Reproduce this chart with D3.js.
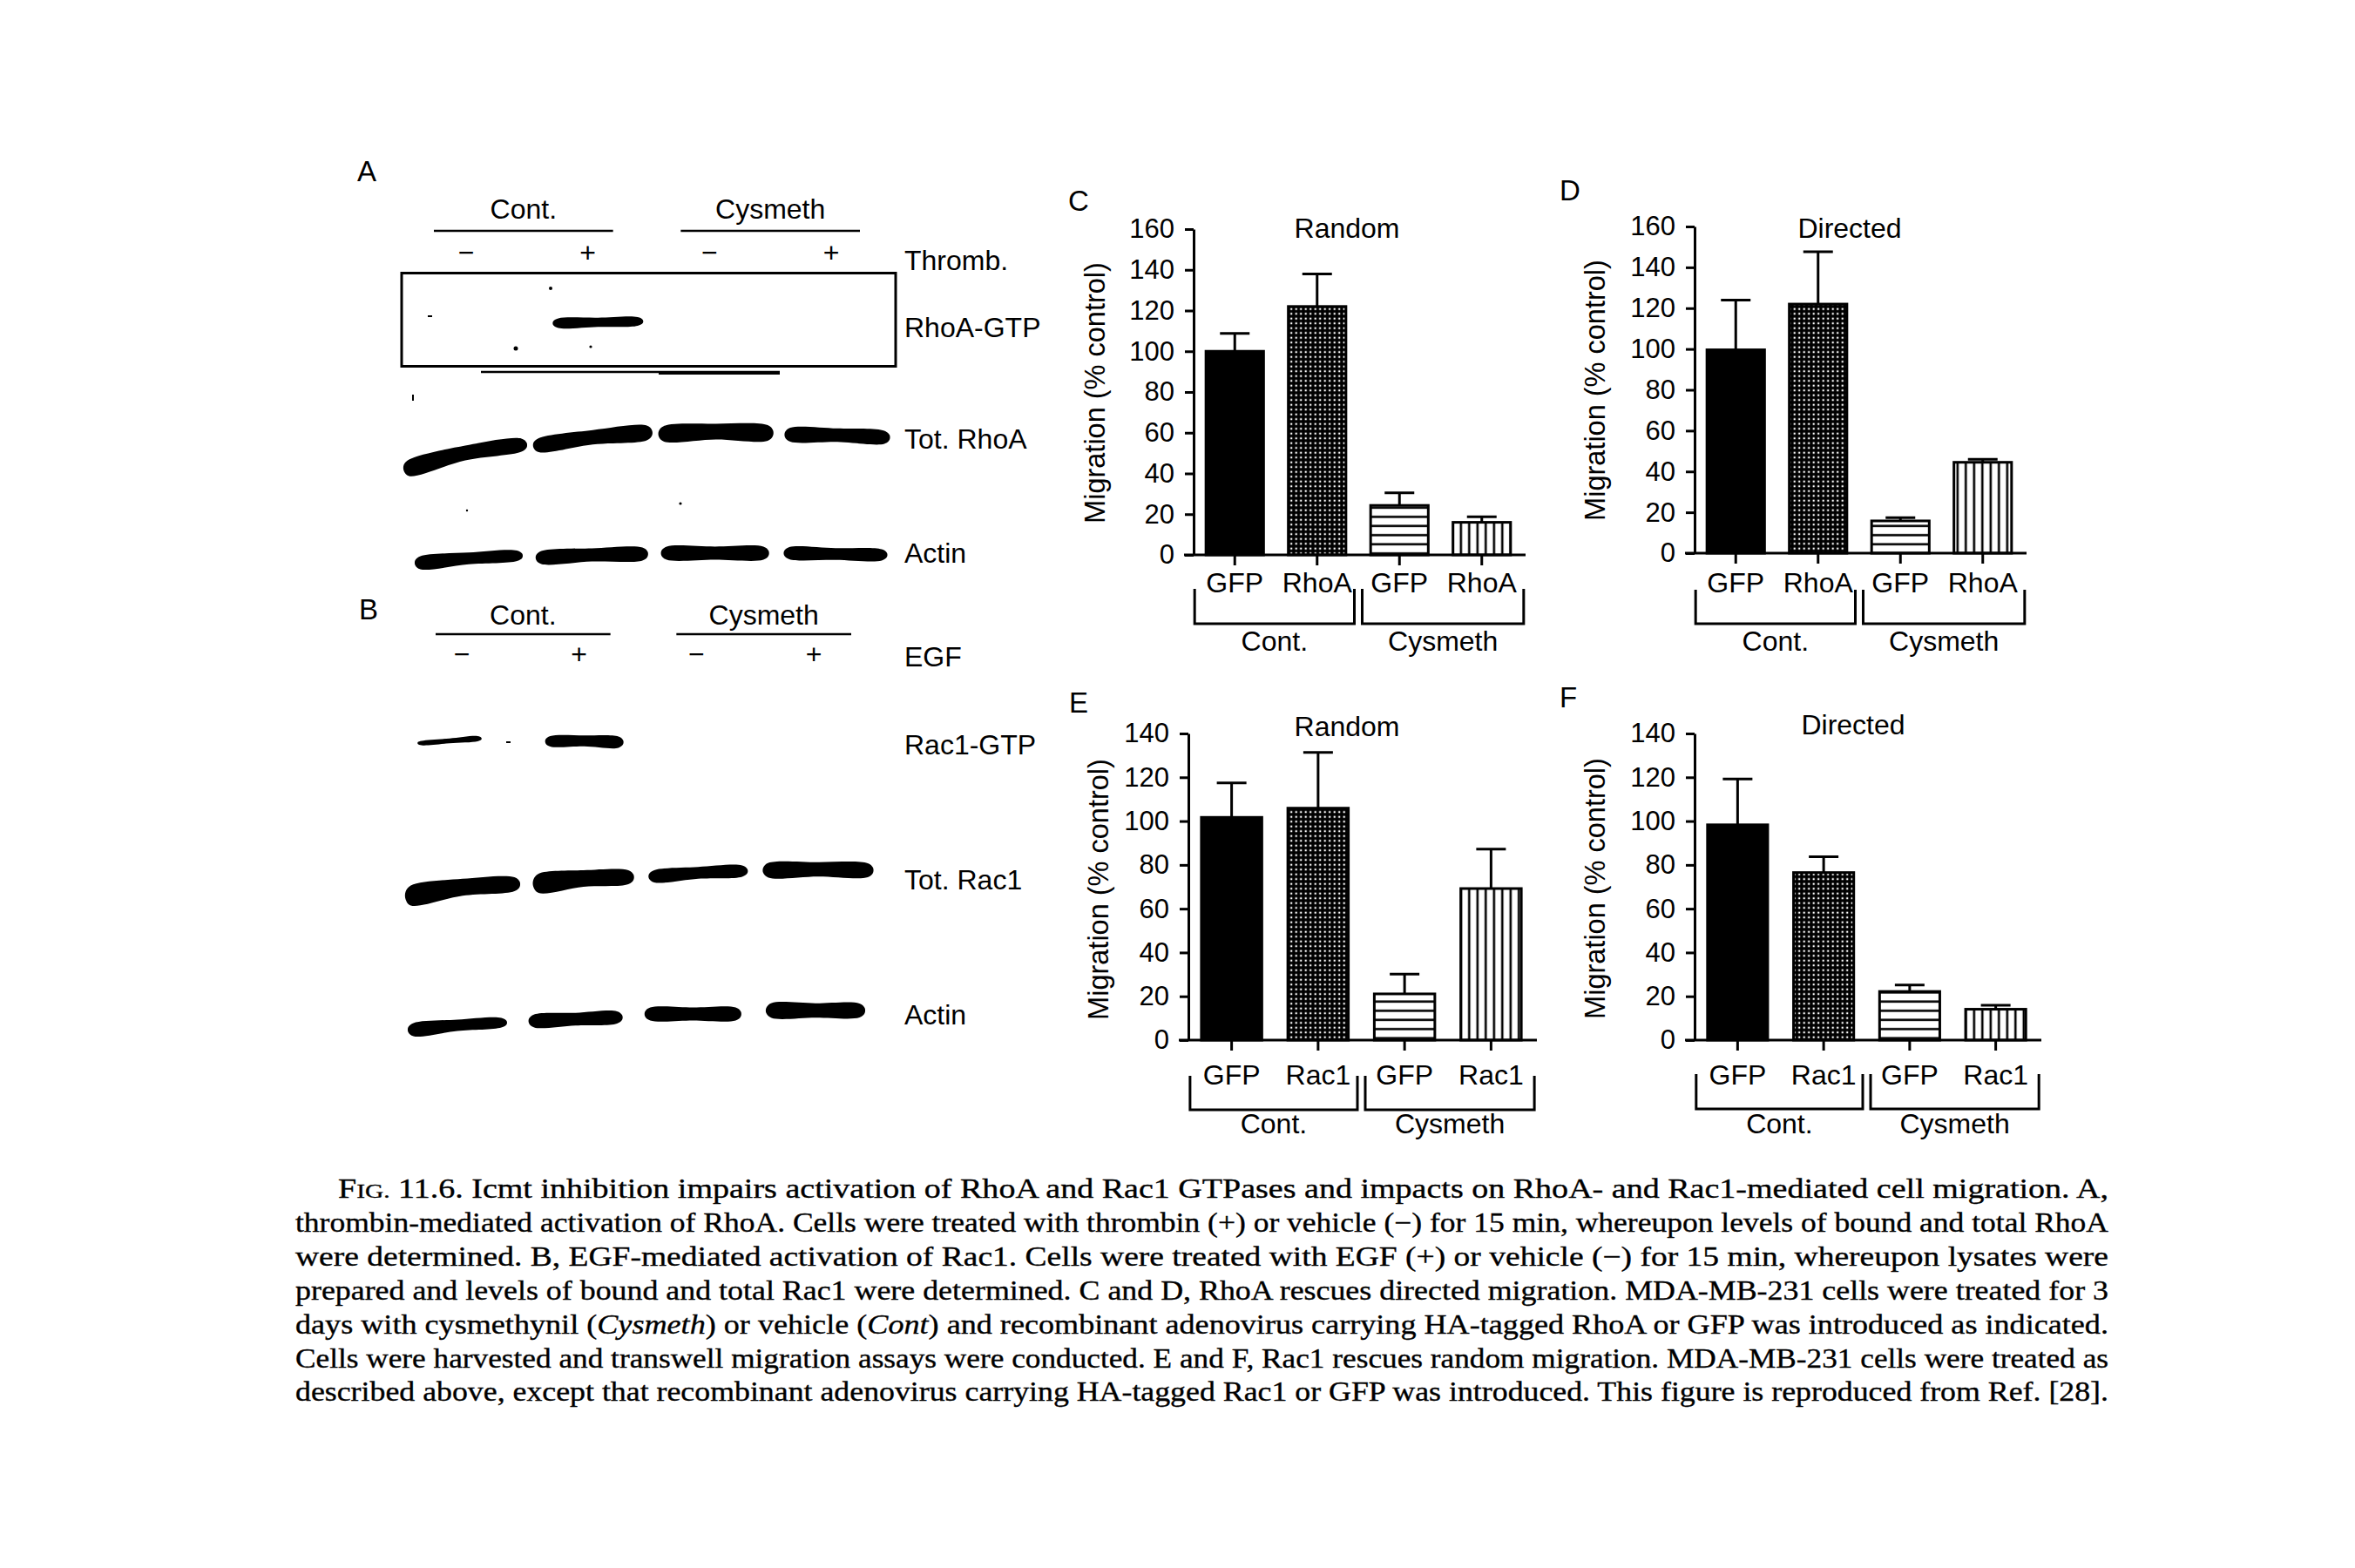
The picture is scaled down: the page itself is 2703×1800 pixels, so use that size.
<!DOCTYPE html>
<html><head><meta charset="utf-8">
<script src="https://cdn.jsdelivr.net/npm/d3@7"></script>
<style>
html,body{margin:0;padding:0;background:#fff;}
svg{display:block;}
text{font-family:"Liberation Sans",Arial,Helvetica,sans-serif;fill:#000;}
text.cap, .cap tspan{font-family:"Liberation Serif","Times New Roman",serif;}
</style></head><body>
<svg id="fig" width="2703" height="1800"></svg>
<script>
// ---------------- DATA ----------------
const groupLabels = ["Cont.", "Cysmeth"];
const rhoCategories = ["GFP", "RhoA", "GFP", "RhoA"];
const racCategories = ["GFP", "Rac1", "GFP", "Rac1"];
const yTicksRho = [0, 20, 40, 60, 80, 100, 120, 140, 160];
const yTicksRac = [0, 20, 40, 60, 80, 100, 120, 140];

// C: RhoA, random migration
const randomRhoMean = [100, 122, 24.3, 16];
const randomRhoSem  = [8.8, 16, 6.2, 2.7];
// D: RhoA, directed migration
const directedRhoMean = [99.6, 122, 15.8, 44.5];
const directedRhoSem  = [24.4, 25.6, 1.6, 1.5];
// E: Rac1, random migration
const randomRacMean = [101.7, 105.9, 21.1, 69.2];
const randomRacSem  = [15.7, 25.4, 9, 18];
// F: Rac1, directed migration
const directedRacMean = [98.3, 76.5, 22.2, 14.1];
const directedRacSem  = [20.9, 7.2, 3, 1.8];

// Western blots (A, B): lane treatments and row names
const thrombLanes = ["−", "+", "−", "+"];
const egfLanes = ["−", "+", "−", "+"];
const blotRowsA = ["RhoA-GTP", "Tot. RhoA", "Actin"];
const blotRowsB = ["Rac1-GTP", "Tot. Rac1", "Actin"];
// band shape per lane: lane, dx, w, yL, yR, tL, tR, bow
const rhoGtpBands = [[1, 10, 103, 1, -1, 11, 10, 0]];
const totRhoBands = [[0, 0, 141, 32, 6, 19, 15, 4], [1, 4, 136, 6, -8, 16, 17, 2], [2, 3, 131, -7, -8, 18, 18, 2], [3, 0, 120, -6, -3, 16, 15, 1]];
const actinABands = [[0, 4, 123, 8, 0, 15, 12, 1], [1, 3, 128, 2, -2, 15, 15, 1], [2, 2, 123, -3, -3, 15, 15, 0], [3, -2, 118, -3, -1, 14, 13, 0]];
const racGtpBands = [[0, -14, 73, 2, -3, 5, 6, 0], [1, 5, 89, 0, 1, 12, 13, 1]];
const totRacBands = [[0, 1, 131, 20, 7, 23, 16, 3], [1, 4, 115, 6, -1, 22, 16, 2], [2, 0, 113, -2, -8, 14, 13, 1], [3, 2, 126, -9, -9, 17, 16, 1]];
const actinBBands = [[0, -5, 113, 14, 6, 15, 11, 1], [1, -5, 107, 4, 0, 15, 14, 0], [2, -6, 110, -4, -4, 15, 15, 0], [3, -1, 113, -8, -8, 17, 16, 0]];

// Caption
const captionLines = [
  [{t:"F"},{t:"IG.",sc:true},{t:" 11.6. Icmt inhibition impairs activation of RhoA and Rac1 GTPases and impacts on RhoA- and Rac1-mediated cell migration. A,"}],
  [{t:"thrombin-mediated activation of RhoA. Cells were treated with thrombin (+) or vehicle (−) for 15 min, whereupon levels of bound and total RhoA"}],
  [{t:"were determined. B, EGF-mediated activation of Rac1. Cells were treated with EGF (+) or vehicle (−) for 15 min, whereupon lysates were"}],
  [{t:"prepared and levels of bound and total Rac1 were determined. C and D, RhoA rescues directed migration. MDA-MB-231 cells were treated for 3"}],
  [{t:"days with cysmethynil ("},{t:"Cysmeth",i:true},{t:") or vehicle ("},{t:"Cont",i:true},{t:") and recombinant adenovirus carrying HA-tagged RhoA or GFP was introduced as indicated."}],
  [{t:"Cells were harvested and transwell migration assays were conducted. E and F, Rac1 rescues random migration. MDA-MB-231 cells were treated as"}],
  [{t:"described above, except that recombinant adenovirus carrying HA-tagged Rac1 or GFP was introduced. This figure is reproduced from Ref. [28]."}]
];

// ---------------- DRAWING ----------------
const svg = d3.select("#fig");
svg.append("rect").attr("width", 2703).attr("height", 1800).attr("fill", "#fff");

const defs = svg.append("defs");
const pd = defs.append("pattern").attr("id", "dots").attr("patternUnits", "userSpaceOnUse").attr("width", 5.5).attr("height", 5.5);
pd.append("rect").attr("width", 5.5).attr("height", 5.5).attr("fill", "#000");
pd.append("rect").attr("x", 1.6).attr("y", 1.6).attr("width", 2.2).attr("height", 2.2).attr("fill", "#fff");
const ph = defs.append("pattern").attr("id", "hlines").attr("patternUnits", "userSpaceOnUse").attr("width", 10).attr("height", 10.5);
ph.append("rect").attr("width", 10).attr("height", 10.5).attr("fill", "#fff");
ph.append("rect").attr("y", 4).attr("width", 10).attr("height", 2.6).attr("fill", "#000");
const pv = defs.append("pattern").attr("id", "vlines").attr("patternUnits", "userSpaceOnUse").attr("width", 9.5).attr("height", 10);
pv.append("rect").attr("width", 9.5).attr("height", 10).attr("fill", "#fff");
pv.append("rect").attr("x", 3.5).attr("width", 2.6).attr("height", 10).attr("fill", "#000");
const barFills = ["#000", "url(#dots)", "url(#hlines)", "url(#vlines)"];

const chartLayout = [
  {letter:"C", lx:1226, ly:242, title:"Random", tx:1546, ty:273, cats:rhoCategories, mean:randomRhoMean, sem:randomRhoSem, ticks:yTicksRho,
   ax:1370, xEnd:1748, y0:637, yTop:263, ylx:1257, yly:451, catY:680, brTop:676, brBot:716, grpY:747},
  {letter:"D", lx:1790, ly:230, title:"Directed", tx:2123, ty:273, cats:rhoCategories, mean:directedRhoMean, sem:directedRhoSem, ticks:yTicksRho,
   ax:1945, xEnd:2323, y0:635, yTop:260, ylx:1831, yly:448, catY:680, brTop:677, brBot:716, grpY:747},
  {letter:"E", lx:1227, ly:818, title:"Random", tx:1546, ty:845, cats:racCategories, mean:randomRacMean, sem:randomRacSem, ticks:yTicksRac,
   ax:1364, xEnd:1761, y0:1194, yTop:842, ylx:1261, yly:1021, catY:1245, brTop:1235, brBot:1274, grpY:1301},
  {letter:"F", lx:1790, ly:812, title:"Directed", tx:2127, ty:843, cats:racCategories, mean:directedRacMean, sem:directedRacSem, ticks:yTicksRac,
   ax:1945, xEnd:2340, y0:1194, yTop:842, ylx:1831, yly:1020, catY:1245, brTop:1233, brBot:1273, grpY:1301}
];

function drawChart(p) {
  const g = svg.append("g");
  const x = d3.scaleBand().domain(d3.range(p.mean.length)).range([p.ax, p.xEnd]).paddingInner(0.3).paddingOuter(0.15);
  const y = d3.scaleLinear().domain([0, d3.max(p.ticks)]).range([p.y0, p.yTop]);
  const bw = x.bandwidth();

  g.append("text").attr("x", p.lx).attr("y", p.ly).attr("font-size", 33).text(p.letter);
  g.append("text").attr("x", p.tx).attr("y", p.ty).attr("font-size", 32).attr("text-anchor", "middle").text(p.title);

  // bars
  g.selectAll("rect.bar").data(p.mean).join("rect").attr("class", "bar")
    .attr("x", (d, i) => x(i)).attr("width", bw)
    .attr("y", d => y(d)).attr("height", d => y(0) - y(d))
    .attr("fill", (d, i) => barFills[i]).attr("stroke", "#000").attr("stroke-width", 3);
  // error bars (upper)
  const eg = g.selectAll("g.err").data(p.mean).join("g").attr("class", "err");
  eg.append("line").attr("x1", (d, i) => x(i) + bw / 2).attr("x2", (d, i) => x(i) + bw / 2)
    .attr("y1", d => y(d)).attr("y2", (d, i) => y(d + p.sem[i])).attr("stroke", "#000").attr("stroke-width", 3);
  eg.append("line").attr("x1", (d, i) => x(i) + bw / 2 - 17).attr("x2", (d, i) => x(i) + bw / 2 + 17)
    .attr("y1", (d, i) => y(d + p.sem[i])).attr("y2", (d, i) => y(d + p.sem[i])).attr("stroke", "#000").attr("stroke-width", 3);

  // y axis
  const ya = g.append("g").attr("transform", `translate(${p.ax},0)`)
    .call(d3.axisLeft(y).tickValues(p.ticks).tickSize(10).tickPadding(12).tickSizeOuter(0));
  ya.select(".domain").attr("stroke-width", 3);
  ya.selectAll(".tick line").attr("stroke-width", 3);
  ya.selectAll(".tick text").attr("font-size", 31).attr("font-family", "Liberation Sans, Arial, sans-serif");

  // x axis line + ticks
  g.append("line").attr("x1", p.ax - 11).attr("x2", p.xEnd + 3).attr("y1", y(0)).attr("y2", y(0))
    .attr("stroke", "#000").attr("stroke-width", 3);
  g.selectAll("line.xt").data(p.cats).join("line").attr("class", "xt")
    .attr("x1", (d, i) => x(i) + bw / 2).attr("x2", (d, i) => x(i) + bw / 2)
    .attr("y1", y(0)).attr("y2", y(0) + 12).attr("stroke", "#000").attr("stroke-width", 3);
  g.selectAll("text.cat").data(p.cats).join("text").attr("class", "cat")
    .attr("x", (d, i) => x(i) + bw / 2).attr("y", p.catY).attr("font-size", 32).attr("text-anchor", "middle").text(d => d);

  // group brackets
  const split = (x(1) + bw + x(2)) / 2;
  const spans = [[x(0) - 13, split - 4.5], [split + 4.5, x(3) + bw + 15]];
  g.selectAll("path.br").data(spans).join("path").attr("class", "br")
    .attr("d", s => `M${s[0]},${p.brTop}V${p.brBot}H${s[1]}V${p.brTop}`)
    .attr("fill", "none").attr("stroke", "#000").attr("stroke-width", 3);
  g.selectAll("text.grp").data(groupLabels).join("text").attr("class", "grp")
    .attr("x", (d, i) => (spans[i][0] + spans[i][1]) / 2).attr("y", p.grpY)
    .attr("font-size", 32).attr("text-anchor", "middle").text(d => d);

  // y label
  g.append("text").attr("transform", `translate(${p.ylx},${p.yly}) rotate(-90)`)
    .attr("dy", "0.35em").attr("text-anchor", "middle").attr("font-size", 32.5).text("Migration (% control)");
}
chartLayout.forEach(drawChart);

// ---------- Blots ----------
function bandPath(cx, cy, a) {
  const [lane, dx, w, yL, yR, tL, tR, bow] = a;
  const x0 = cx + dx - w / 2, x1 = cx + dx + w / 2, xm = (x0 + x1) / 2;
  const yl = cy + yL, yr = cy + yR, ym = (yl + yr) / 2 - bow, tm = (tL + tR) / 2;
  const e = Math.min(6, w * 0.06);
  const pts = [[x0, yl - tL * 0.18], [x0 + e, yl - tL / 2], [xm, ym - tm / 2], [x1 - e, yr - tR / 2], [x1, yr - tR * 0.18],
               [x1, yr + tR * 0.18], [x1 - e, yr + tR / 2], [xm, ym + tm / 2], [x0 + e, yl + tL / 2], [x0, yl + tL * 0.18]];
  return d3.line().curve(d3.curveCatmullRomClosed.alpha(0.5))(pts);
}

function drawBlot(cfg) {
  const g = svg.append("g");
  const laneX = d3.scaleLinear().domain([0, 3]).range(cfg.laneRange);
  const labX = d3.scaleLinear().domain([0, 3]).range(cfg.labRange);
  g.append("text").attr("x", cfg.letterX).attr("y", cfg.letterY).attr("font-size", 33).text(cfg.letter);
  // group headers
  const gspans = [[labX(0) - 33 + cfg.gshift[0], labX(1) + 33 + cfg.gshift[0]], [labX(2) - 33 + cfg.gshift[1], labX(3) + 33 + cfg.gshift[1]]];
  g.selectAll("line.gl").data(gspans).join("line").attr("class", "gl")
    .attr("x1", s => s[0]).attr("x2", s => s[1]).attr("y1", cfg.lineY).attr("y2", cfg.lineY)
    .attr("stroke", "#000").attr("stroke-width", 2.5);
  g.selectAll("text.gt").data(groupLabels).join("text").attr("class", "gt")
    .attr("x", (d, i) => (gspans[i][0] + gspans[i][1]) / 2).attr("y", cfg.headY)
    .attr("font-size", 32).attr("text-anchor", "middle").text(d => d);
  g.selectAll("text.pm").data(cfg.lanes).join("text").attr("class", "pm")
    .attr("x", (d, i) => labX(i)).attr("y", cfg.pmY).attr("font-size", 32).attr("text-anchor", "middle").text(d => d);
  g.append("text").attr("x", cfg.labelX).attr("y", cfg.treatY).attr("font-size", 32).text(cfg.treat);
  // rows
  cfg.rows.forEach((name, r) => {
    g.append("text").attr("x", cfg.labelX).attr("y", cfg.rowLabelY[r]).attr("font-size", 32).text(name);
    g.selectAll(null).data(cfg.bands[r]).join("path")
      .attr("d", a => bandPath(laneX(a[0]), cfg.rowY[r], a)).attr("fill", "#000");
  });
  return g;
}

const gA = drawBlot({letter:"A", letterX:410, letterY:208, laneRange:[534, 961], labRange:[535, 954], gshift:[-4, 0],
  lineY:265, headY:251, pmY:301, lanes:thrombLanes, treat:"Thromb.", treatY:310, labelX:1038,
  rows:blotRowsA, rowY:[370, 505, 638], rowLabelY:[387, 515, 646], bands:[rhoGtpBands, totRhoBands, actinABands]});
// pull-down box and trace marks in A
gA.append("rect").attr("x", 461).attr("y", 313.5).attr("width", 567).attr("height", 107).attr("fill", "none").attr("stroke", "#000").attr("stroke-width", 3);
gA.append("line").attr("x1", 552).attr("x2", 895).attr("y1", 427).attr("y2", 427).attr("stroke", "#000").attr("stroke-width", 2.5);
gA.append("line").attr("x1", 756).attr("x2", 895).attr("y1", 428).attr("y2", 428).attr("stroke", "#000").attr("stroke-width", 4);
[[632, 331, 2], [592, 400, 2.5], [678, 398, 1.6], [536, 586, 1.2], [781, 578, 1.6]].forEach(s =>
  gA.append("circle").attr("cx", s[0]).attr("cy", s[1]).attr("r", s[2]).attr("fill", "#000"));
gA.append("rect").attr("x", 491).attr("y", 362).attr("width", 5).attr("height", 2).attr("fill", "#000");
gA.append("rect").attr("x", 473).attr("y", 453).attr("width", 2).attr("height", 7).attr("fill", "#000");

const gB = drawBlot({letter:"B", letterX:412, letterY:711, laneRange:[530, 937], labRange:[530, 934], gshift:[3, 10],
  lineY:728, headY:717, pmY:762, lanes:egfLanes, treat:"EGF", treatY:765, labelX:1038,
  rows:blotRowsB, rowY:[851, 1008, 1168], rowLabelY:[866, 1021, 1176], bands:[racGtpBands, totRacBands, actinBBands]});
gB.append("rect").attr("x", 581).attr("y", 851).attr("width", 5).attr("height", 2).attr("fill", "#000");

// ---------- Caption ----------
const cap = svg.append("g");
captionLines.forEach((segs, i) => {
  const x0 = i === 0 ? 388 : 339;
  const t = cap.append("text").attr("class", "cap").attr("x", x0).attr("y", 1375 + i * 38.9)
    .attr("font-size", 31).attr("stroke", "#000").attr("stroke-width", 0.35)
    .attr("textLength", 2420 - x0).attr("lengthAdjust", "spacingAndGlyphs");
  segs.forEach(s => {
    const ts = t.append("tspan").text(s.t);
    if (s.sc) ts.attr("font-size", 24);
    if (s.i) ts.attr("font-style", "italic");
  });
});
</script>
</body></html>
